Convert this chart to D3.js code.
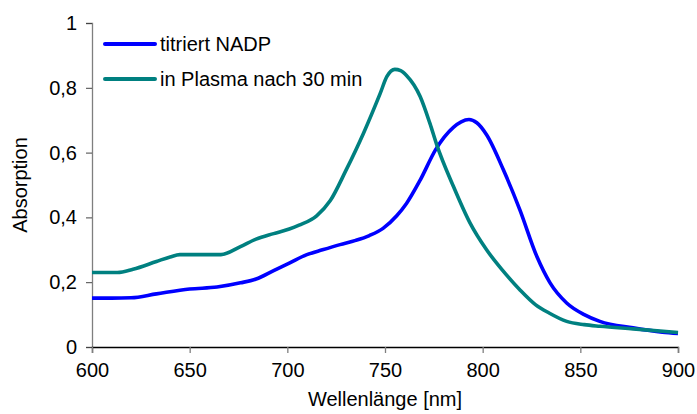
<!DOCTYPE html>
<html>
<head>
<meta charset="utf-8">
<script src="https://cdn.jsdelivr.net/npm/d3@7"></script>
<style>
  html, body { margin: 0; padding: 0; background: #fff; }
  svg { display: block; font-family: "Liberation Sans", Arial, sans-serif; }
</style>
</head>
<body>
<svg id="chart" width="697" height="414"></svg>
<script>
// Absorption spectra, wavelength in nm
const nadpWavelength = [600, 610, 620, 633, 650, 664, 676, 684, 693, 701, 710, 718, 727, 735, 742, 749, 756, 761, 768, 776, 785, 789, 793, 797, 802, 810.6, 819, 827.7, 834.5, 843, 852, 860, 877, 892, 900];
const nadpAbsorption = [0.151, 0.151, 0.152, 0.164, 0.179, 0.185, 0.198, 0.21, 0.236, 0.259, 0.285, 0.30, 0.316, 0.329, 0.344, 0.366, 0.405, 0.443, 0.515, 0.61, 0.678, 0.695, 0.702, 0.692, 0.655, 0.547, 0.424, 0.28, 0.198, 0.136, 0.10, 0.079, 0.059, 0.046, 0.042];

const plasmaWavelength = [600, 613, 621, 633, 640, 645, 666, 676, 684, 693, 701, 706, 715, 722, 730, 739, 747.5, 751, 755, 758, 761, 768, 773, 776.5, 785, 793.5, 802, 810, 819, 827, 834, 843, 852, 860, 877, 900];
const plasmaAbsorption = [0.23, 0.23, 0.24, 0.264, 0.278, 0.285, 0.285, 0.31, 0.333, 0.35, 0.364, 0.376, 0.405, 0.452, 0.545, 0.66, 0.782, 0.835, 0.857, 0.853, 0.838, 0.773, 0.69, 0.624, 0.496, 0.383, 0.30, 0.238, 0.177, 0.131, 0.105, 0.079, 0.069, 0.064, 0.056, 0.045];

const seriesNames = ["titriert NADP", "in Plasma nach 30 min"];
const seriesColors = ["#0000ff", "#008080"];

const xTicks = [600, 650, 700, 750, 800, 850, 900];
const yTicks = [0, 0.2, 0.4, 0.6, 0.8, 1];

const svg = d3.select("#chart");
const margin = { left: 92, right: 19, top: 23, bottom: 67 };
const width = 697, height = 414;

const x = d3.scaleLinear().domain([600, 900]).range([margin.left, width - margin.right]);
const y = d3.scaleLinear().domain([0, 1]).range([height - margin.bottom, margin.top]);

const fmt = v => String(v).replace(".", ",");

// y axis
const yAxis = svg.append("g")
  .attr("transform", `translate(${margin.left},0)`)
  .call(d3.axisLeft(y).tickValues(yTicks).tickFormat(fmt).tickSize(6).tickPadding(9));
yAxis.select(".domain").attr("stroke", "#7f7f7f").attr("stroke-width", 1.3);
yAxis.selectAll(".tick line").attr("stroke", "#444");
yAxis.selectAll("text").attr("font-size", 20).attr("fill", "#000")
  .attr("font-family", "Liberation Sans, Arial, sans-serif");

// x axis
const xAxis = svg.append("g")
  .attr("transform", `translate(0,${height - margin.bottom})`)
  .call(d3.axisBottom(x).tickValues(xTicks).tickSize(6).tickPadding(10));
xAxis.select(".domain").attr("stroke", "#000").attr("stroke-width", 1.3);
xAxis.selectAll(".tick line").attr("stroke", "#7f7f7f").attr("stroke-width", 1.3);
xAxis.selectAll("text").attr("font-size", 20).attr("fill", "#000")
  .attr("font-family", "Liberation Sans, Arial, sans-serif");

// axis titles
svg.append("text")
  .attr("x", (margin.left + width - margin.right) / 2)
  .attr("y", 406)
  .attr("text-anchor", "middle")
  .attr("font-size", 20)
  .text("Wellenlänge [nm]");

svg.append("text")
  .attr("transform", `translate(27,${(margin.top + height - margin.bottom) / 2}) rotate(-90)`)
  .attr("text-anchor", "middle")
  .attr("font-size", 20)
  .text("Absorption");

// spectra
const line = d3.line()
  .x(d => x(d[0]))
  .y(d => y(d[1]))
  .curve(d3.curveMonotoneX);

const series = [
  d3.zip(nadpWavelength, nadpAbsorption),
  d3.zip(plasmaWavelength, plasmaAbsorption)
];

svg.append("g").selectAll("path")
  .data(series)
  .join("path")
  .attr("fill", "none")
  .attr("stroke", (d, i) => seriesColors[i])
  .attr("stroke-width", 3.6)
  .attr("stroke-linejoin", "round")
  .attr("d", line);

// legend
const legend = svg.append("g");
const legendY = [44, 79];
seriesNames.forEach((name, i) => {
  legend.append("line")
    .attr("x1", 105).attr("x2", 155)
    .attr("y1", legendY[i]).attr("y2", legendY[i])
    .attr("stroke", seriesColors[i])
    .attr("stroke-width", 4)
    .attr("stroke-linecap", "round");
  legend.append("text")
    .attr("x", 160)
    .attr("y", legendY[i] + 7)
    .attr("font-size", 20)
    .text(name);
});
</script>
</body>
</html>
